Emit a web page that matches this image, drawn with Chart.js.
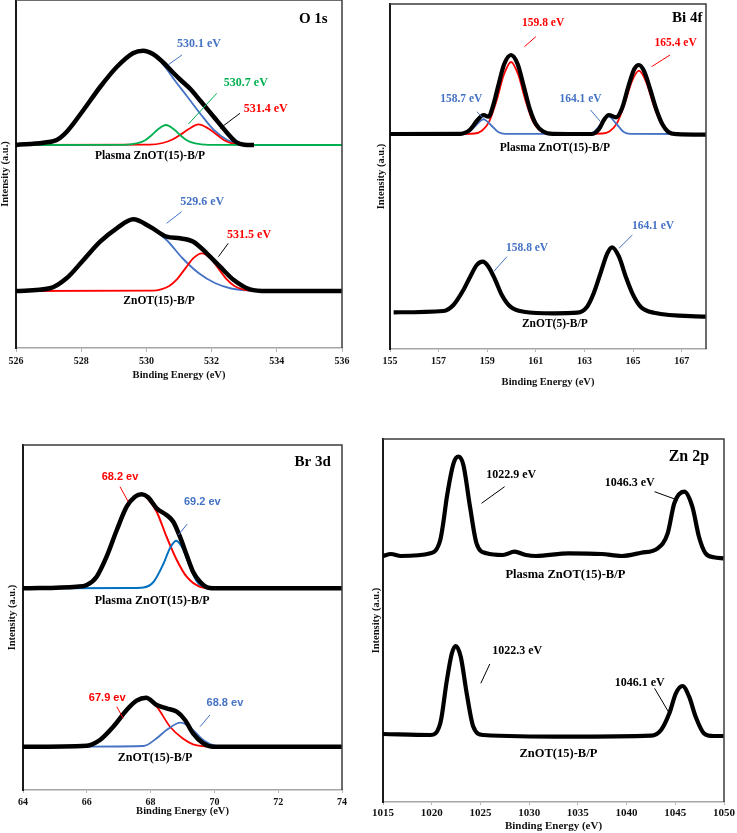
<!DOCTYPE html>
<html>
<head>
<meta charset="utf-8">
<script src="https://cdn.jsdelivr.net/npm/chart.js@4.4.0/dist/chart.umd.min.js"></script>
<style>
  body { margin: 0; background: #fff; }
  #wrap { position: relative; width: 737px; height: 833px; overflow: hidden; }
  canvas { position: absolute; }
</style>
</head>
<body>
<div id="wrap">
  <canvas id="o1sChart" width="355" height="400" style="left:0;top:0"></canvas>
  <canvas id="bi4fChart" width="367" height="400" style="left:370px;top:0"></canvas>
  <canvas id="br3dChart" width="355" height="403" style="left:0;top:430px"></canvas>
  <canvas id="zn2pChart" width="367" height="403" style="left:370px;top:430px"></canvas>
</div>
<script>
// ---- O 1s ----
const o1sTicks = [526, 528, 530, 532, 534, 536];
const o1sPlasmaSum = [[526,203],[526.84,205.3],[527.25,208],[527.55,216],[528.07,238],[528.58,261],[529.09,281],[529.6,295],[529.9,297.3],[530.2,294],[530.5,286],[530.8,276],[531.05,268],[531.35,259],[531.66,247],[532.07,231],[532.48,215],[532.75,206],[533.0,203.3],[533.3,203]];
const o1sPlasmaBlue = [[526,203],[527.0,205.5],[527.55,216],[528.07,238],[528.58,261],[529.09,281],[529.6,295],[529.9,297.3],[530.2,294],[530.5,284],[530.93,265],[531.24,252],[531.66,234],[532.07,218],[532.48,208],[532.89,204],[533.5,203],[536,203]];
const o1sPlasmaGreen = [[526,203],[529.3,203.2],[529.7,204.6],[529.95,207.5],[530.15,212.5],[530.35,218.5],[530.6,223],[530.85,218.5],[531.05,212.5],[531.25,207.5],[531.5,204.6],[531.9,203.2],[536,203]];
const o1sPlasmaRed = [[526,203],[530.1,203.3],[530.5,205],[530.8,208.5],[531.05,213.5],[531.3,219],[531.6,223.7],[531.9,219.5],[532.15,213.5],[532.4,207.5],[532.7,204],[533.0,203.2],[533.2,203]];
const o1sRawSum = [[526,57],[527.04,59.7],[527.55,69.7],[528.07,88],[528.58,106.3],[529.09,119.7],[529.6,128.7],[530.11,121.3],[530.62,111.3],[531.03,109.7],[531.44,106.3],[531.85,94.7],[532.26,81.3],[532.68,68],[533.18,58.7],[533.7,57],[536,57]];
const o1sRawBlue = [[526,57],[527.04,59.7],[527.55,69.7],[528.07,88],[528.58,106.3],[529.09,119.7],[529.6,128.7],[530.11,121.3],[530.62,108],[531.1,90],[531.6,75],[532.1,65],[532.6,59.5],[533.2,57.5],[533.6,57]];
const o1sRawRed = [[526,57],[530.2,57.4],[530.45,58.7],[530.7,62.1],[530.95,69.2],[531.2,79.9],[531.45,90.2],[531.7,94.7],[531.95,90.2],[532.2,79.9],[532.45,69.2],[532.7,62.1],[532.95,58.7],[533.2,57.4],[533.6,57]];
const o1sNotes = ['530.1 eV', '530.7 eV', '531.4 eV', '529.6 eV', '531.5 eV'];
const o1sNoteX = [531.61, 533.05, 533.66, 531.71, 533.15];
const o1sNoteY = [304, 265.3, 239.3, 145.7, 113];
const o1sLeaders = [[531.09,293,530.66,283],[532.16,254.7,531.29,224],[532.87,234.7,532.26,219.7],[531.08,136.3,530.62,124.7],[532.51,104.7,532.21,91.3]];
const o1sSamples = ['Plasma ZnOT(15)-B/P', 'ZnOT(15)-B/P'];
const o1sSampleX = [530.11, 530.39];
const o1sSampleY = [192, 47];

// ---- Bi 4f ----
const bi4fTicks = [155, 157, 159, 161, 163, 165, 167];
const bi4fPlasmaSum = [[155,215],[157.9,215.2],[158.3,219.5],[158.57,228],[158.85,234],[159.05,232.3],[159.25,244],[159.45,263],[159.7,285],[159.98,294],[160.25,285],[160.5,263],[160.75,240],[161.0,225],[161.3,217.5],[161.7,215.2],[163.3,215],[163.6,220],[163.8,229],[164.0,234],[164.3,231.7],[164.55,241],[164.8,262],[165.05,280],[165.24,284],[165.45,278],[165.7,260],[165.95,240],[166.2,225],[166.45,217],[166.8,214.8],[168,214.3]];
const bi4fPlasmaRed = [[157.5,215],[158.48,215.5],[158.78,218.2],[159.08,227.4],[159.38,248],[159.68,274],[159.98,287],[160.28,274],[160.58,248],[160.88,227.4],[161.18,218.2],[161.48,215.5],[162,215],[163.74,215.5],[164.04,217.8],[164.34,225.9],[164.64,244],[164.94,266.9],[165.24,278.3],[165.54,266.9],[165.84,244],[166.14,225.9],[166.44,217.8],[166.74,215.5],[167.2,215]];
const bi4fPlasmaBlue = [[155,215],[157.95,215.2],[158.25,217],[158.55,224],[158.85,229.7],[159.15,224],[159.45,217],[159.75,215.2],[163.1,215.2],[163.4,217.3],[163.7,225.5],[164.0,232.3],[164.3,225.5],[164.6,217.3],[164.9,215.2],[168,215]];
const bi4fRawSum = [[155.15,36.7],[157.2,38],[157.61,44],[158.02,59],[158.3,72.3],[158.57,84],[158.81,87.3],[159.05,82.3],[159.33,69],[159.6,54],[159.95,42.3],[160.5,37.3],[161.74,35.7],[162.7,36.3],[163.11,42.3],[163.38,55.7],[163.66,75.7],[163.94,95.7],[164.14,101.7],[164.42,92.3],[164.7,72.3],[164.97,55.7],[165.31,42.3],[165.86,36.3],[168,32.3]];
const bi4fNotes = ['159.8 eV', '165.4 eV', '158.7 eV', '164.1 eV', '158.8 eV', '164.1 eV'];
const bi4fNoteX = [161.3, 166.75, 157.93, 162.84, 160.64, 165.82];
const bi4fNoteY = [326.3, 306.3, 249.7, 249.7, 100.7, 123.3];
const bi4fLeaders = [[161.0,312.3,160.53,302.3],[166.52,294,165.76,282.3],[158.57,237.3,158.99,227.3],[163.25,239,163.66,227.3],[159.81,92.3,159.26,77.3],[164.97,114,164.42,100.7]];
const bi4fSamples = ['Plasma ZnOT(15)-B/P', 'ZnOT(5)-B/P'];
const bi4fSampleX = [161.78, 161.78];
const bi4fSampleY = [200.7, 24.7];

// ---- Br 3d ----
const br3dTicks = [64, 66, 68, 70, 72, 74];
const br3dPlasmaSum = [[64,201.7],[65.68,203.3],[66.0,205],[66.31,213.3],[66.62,233.3],[66.94,260],[67.25,283.3],[67.51,293.3],[67.72,295.7],[67.92,292.7],[68.19,281.7],[68.5,275],[68.71,268.3],[68.92,253.3],[69.13,235],[69.33,218.3],[69.55,208.3],[69.81,202.3],[70.07,201.7],[74,201.7]];
const br3dPlasmaRed = [[65,201.7],[65.68,203.3],[66.0,205],[66.31,213.3],[66.62,233.3],[66.94,260],[67.25,283.3],[67.51,293.3],[67.72,295.7],[67.92,291],[68.19,278.3],[68.5,253.3],[68.82,230],[69.13,213.3],[69.55,203.3],[69.97,201.7]];
const br3dPlasmaBlue = [[65,201.7],[67.4,202],[67.77,202.5],[68.09,208],[68.4,226],[68.61,242],[68.8,249.3],[69.0,242],[69.2,226],[69.46,208],[69.77,202.5],[70.07,201.7]];
const br3dRawSum = [[64,43.3],[66.0,44.3],[66.41,50],[66.83,63.3],[67.25,80],[67.56,89.3],[67.86,92.3],[68.19,85],[68.5,81.7],[68.82,78.3],[69.08,70],[69.33,56.7],[69.65,46.7],[69.97,43.3],[74,43.3]];
const br3dRawRed = [[65,43.3],[66.0,44.3],[66.41,50],[66.83,63.3],[67.25,80],[67.56,89.3],[67.86,92.3],[68.19,83.3],[68.61,63.3],[69.0,51.7],[69.33,45.7],[69.76,43.3]];
const br3dRawBlue = [[65,43.3],[67.77,44],[68.19,51.7],[68.5,60],[68.94,67.3],[69.33,60],[69.65,50],[70.07,44],[70.49,43.3]];
const br3dNotes = ['68.2 ev', '69.2 ev', '67.9 ev', '68.8 ev'];
const br3dNoteX = [67.04, 69.62, 66.64, 70.33];
const br3dNoteY = [313.3, 287.7, 92.3, 86.7];
const br3dLeaders = [[67.04,303.3,67.3,288.3],[69.15,266,68.87,255],[66.94,83.3,67.14,71.7],[69.86,75,69.55,63.3]];
const br3dSamples = ['Plasma ZnOT(15)-B/P', 'ZnOT(15)-B/P'];
const br3dSampleX = [68.05, 68.14];
const br3dSampleY = [189, 31.7];

// ---- Zn 2p ----
const zn2pTicks = [1015, 1020, 1025, 1030, 1035, 1040, 1045, 1050];
const zn2pPlasma = [[1015,246],[1015.81,248],[1016.83,246],[1019.87,248.7],[1020.88,262],[1021.2,280],[1021.56,305.3],[1022.24,338.7],[1022.74,345.3],[1023.25,337],[1023.93,295.3],[1024.6,258.7],[1025.62,248.7],[1027.31,247],[1028.5,250.3],[1029.68,247],[1030.69,246],[1034.07,248.7],[1037.45,248],[1039.48,246],[1041.51,249.3],[1043.2,253.7],[1044.22,268.7],[1044.9,298.7],[1045.91,310.3],[1046.75,295.3],[1047.43,265.3],[1048.1,248.7],[1048.95,244.7],[1049.97,243.7]];
const zn2pRaw = [[1015,68],[1019.87,67],[1020.88,78.7],[1021.56,122],[1022.07,148.7],[1022.47,156],[1022.98,145.3],[1023.59,108.7],[1024.27,75.3],[1025.28,67],[1034.07,65.3],[1042.53,66.3],[1043.54,72],[1044.39,88.7],[1045.06,108.7],[1045.74,116],[1046.42,105.3],[1047.09,85.3],[1047.94,68.7],[1048.95,66],[1049.97,66]];
const zn2pNotes = ['1022.9 eV', '1046.3 eV', '1022.3 eV', '1046.1 eV'];
const zn2pNoteX = [1028.16, 1040.33, 1028.78, 1041.35];
const zn2pNoteY = [327, 318.7, 151.3, 119.3];
const zn2pLeaders = [[1027.48,315.3,1025.11,298.7],[1042.87,310.3,1045.22,302],[1025.96,138,1025.04,118.7],[1042.87,113.7,1044.39,88.7]];
const zn2pSamples = ['Plasma ZnOT(15)-B/P', 'ZnOT(15)-B/P'];
const zn2pSampleX = [1033.72, 1033];
const zn2pSampleY = [227, 48.7];

const SERIF = '"Liberation Serif", "Times New Roman", serif';
const SANS = '"Liberation Sans", Arial, sans-serif';
const BLACK = '#000000';
const BLUE = '#4472C4';
const DEEPBLUE = '#0070C0';
const GREEN = '#00B050';
const RED = '#FF0000';

function curve(pairs, color, width) {
  return {
    data: pairs.map(p => ({ x: p[0], y: p[1] })),
    borderColor: color,
    borderWidth: width,
    pointRadius: 0,
    fill: false,
    cubicInterpolationMode: 'monotone'
  };
}

// draws the frame, leader lines and all labels in data coordinates
const notesPlugin = {
  id: 'notes',
  afterDatasetsDraw(chart, args, o) {
    const ctx = chart.ctx;
    const xs = chart.scales.x, ys = chart.scales.y;
    const a = chart.chartArea;
    ctx.save();
    ctx.strokeStyle = '#3c3c3c';
    ctx.lineWidth = 1.5;
    ctx.beginPath();
    ctx.moveTo(a.left, a.top);
    ctx.lineTo(a.right, a.top);
    ctx.lineTo(a.right, a.bottom);
    ctx.stroke();

    ctx.lineWidth = 1;
    o.leaders.forEach((l, i) => {
      ctx.strokeStyle = o.leaderColors[i];
      ctx.beginPath();
      ctx.moveTo(xs.getPixelForValue(l[0]), ys.getPixelForValue(l[1]));
      ctx.lineTo(xs.getPixelForValue(l[2]), ys.getPixelForValue(l[3]));
      ctx.stroke();
    });

    ctx.textAlign = 'center';
    ctx.textBaseline = 'middle';
    ctx.font = o.noteFont;
    o.notes.forEach((t, i) => {
      ctx.fillStyle = o.noteColors[i];
      ctx.fillText(t, xs.getPixelForValue(o.noteX[i]), ys.getPixelForValue(o.noteY[i]));
    });
    ctx.font = o.sampleFont;
    ctx.fillStyle = BLACK;
    o.samples.forEach((t, i) => {
      ctx.fillText(t, xs.getPixelForValue(o.sampleX[i]), ys.getPixelForValue(o.sampleY[i]));
    });
    ctx.font = o.titleFont;
    ctx.fillText(o.title[0], xs.getPixelForValue(o.title[1]), ys.getPixelForValue(o.title[2]));
    ctx.restore();
  }
};

function makePanel(id, p) {
  const ctx = document.getElementById(id).getContext('2d');
  return new Chart(ctx, {
    type: 'line',
    data: { datasets: p.datasets },
    plugins: [notesPlugin],
    options: {
      responsive: false,
      animation: false,
      layout: { padding: p.pad },
      plugins: {
        legend: { display: false },
        tooltip: { enabled: false },
        notes: p.notes
      },
      scales: {
        x: {
          type: 'linear',
          min: p.xMin,
          max: p.xMax,
          afterBuildTicks: s => { s.ticks = p.ticks.map(v => ({ value: v })); },
          afterFit: s => { s.height = p.xH; },
          grid: { drawOnChartArea: false, drawTicks: true, tickLength: p.tickLen, color: '#b5b5b5' },
          border: { color: '#a5a5a5', width: 1.5 },
          ticks: {
            autoSkip: false, maxRotation: 0, padding: p.tickPad, color: '#111',
            font: { family: SERIF, weight: 'bold', size: p.tickSize },
            callback: v => String(v)
          },
          title: {
            display: true, text: 'Binding Energy (eV)', color: '#111',
            font: { family: SERIF, weight: 'bold', size: p.axisSize },
            padding: { top: 0, bottom: p.xTitlePad }
          }
        },
        y: {
          type: 'linear',
          min: 0,
          max: p.yMax,
          afterFit: s => { s.width = p.yW; },
          ticks: { display: false },
          grid: { display: false },
          border: { color: '#1a1a1a', width: 2 },
          title: {
            display: true, text: 'Intensity (a.u.)', color: '#111',
            font: { family: SERIF, weight: 'bold', size: 10.5 },
            padding: { top: p.yTitlePad, bottom: 0 }
          }
        }
      }
    }
  });
}

makePanel('o1sChart', {
  xMin: 526, xMax: 536, yMax: 348, ticks: o1sTicks,
  pad: { left: 0, top: 0, right: 13, bottom: 16 }, xH: 36, yW: 16,
  tickLen: 4, tickPad: 3, tickSize: 10, axisSize: 10.5, xTitlePad: 2, yTitlePad: -1,
  datasets: [
    curve(o1sPlasmaSum, BLACK, 4.5),
    curve(o1sPlasmaGreen, GREEN, 1.8),
    curve(o1sPlasmaRed, RED, 1.8),
    curve(o1sPlasmaBlue, BLUE, 1.8),
    curve(o1sRawSum, BLACK, 4.5),
    curve(o1sRawRed, RED, 1.8),
    curve(o1sRawBlue, BLUE, 1.8)
  ],
  notes: {
    notes: o1sNotes, noteX: o1sNoteX, noteY: o1sNoteY,
    noteColors: [BLUE, GREEN, RED, BLUE, RED],
    leaders: o1sLeaders, leaderColors: [BLUE, GREEN, BLACK, BLUE, BLACK],
    samples: o1sSamples, sampleX: o1sSampleX, sampleY: o1sSampleY,
    title: ['O 1s', 535.12, 329],
    noteFont: 'bold 12px ' + SERIF, sampleFont: 'bold 11.5px ' + SERIF, titleFont: 'bold 15px ' + SERIF
  }
});

makePanel('bi4fChart', {
  xMin: 155, xMax: 168, yMax: 345, ticks: bi4fTicks,
  pad: { left: 0, top: 4, right: 31, bottom: 9 }, xH: 42, yW: 20,
  tickLen: 3, tickPad: 3, tickSize: 10, axisSize: 10.5, xTitlePad: 2, yTitlePad: 5,
  datasets: [
    curve(bi4fPlasmaSum, BLACK, 4.2),
    curve(bi4fPlasmaBlue, BLUE, 1.8),
    curve(bi4fPlasmaRed, RED, 1.8),
    curve(bi4fRawSum, BLACK, 4.2)
  ],
  notes: {
    notes: bi4fNotes, noteX: bi4fNoteX, noteY: bi4fNoteY,
    noteColors: [RED, RED, BLUE, BLUE, BLUE, BLUE],
    leaders: bi4fLeaders, leaderColors: [RED, RED, BLUE, BLUE, BLUE, BLUE],
    samples: bi4fSamples, sampleX: bi4fSampleX, sampleY: bi4fSampleY,
    title: ['Bi 4f', 167.23, 330.7],
    noteFont: 'bold 11.5px ' + SERIF, sampleFont: 'bold 11.5px ' + SERIF, titleFont: 'bold 15px ' + SERIF
  }
});

makePanel('br3dChart', {
  xMin: 64, xMax: 74, yMax: 345, ticks: br3dTicks,
  pad: { left: 0, top: 15, right: 13, bottom: 13 }, xH: 30, yW: 23,
  tickLen: 3, tickPad: 3, tickSize: 10, axisSize: 10.5, xTitlePad: 2, yTitlePad: 6,
  datasets: [
    curve(br3dPlasmaSum, BLACK, 4.5),
    curve(br3dPlasmaBlue, DEEPBLUE, 2),
    curve(br3dPlasmaRed, RED, 2),
    curve(br3dRawSum, BLACK, 4.5),
    curve(br3dRawBlue, BLUE, 1.8),
    curve(br3dRawRed, RED, 1.8)
  ],
  notes: {
    notes: br3dNotes, noteX: br3dNoteX, noteY: br3dNoteY,
    noteColors: [RED, BLUE, RED, BLUE],
    leaders: br3dLeaders, leaderColors: [RED, BLUE, RED, BLUE],
    samples: br3dSamples, sampleX: br3dSampleX, sampleY: br3dSampleY,
    title: ['Br 3d', 73.08, 328.3],
    noteFont: 'bold 11px ' + SANS, sampleFont: 'bold 12px ' + SERIF, titleFont: 'bold 15px ' + SERIF
  }
});

makePanel('zn2pChart', {
  xMin: 1015, xMax: 1050, yMax: 363, ticks: zn2pTicks,
  pad: { left: 0, top: 9, right: 10, bottom: 0 }, xH: 31, yW: 12,
  tickLen: 3, tickPad: 2, tickSize: 11, axisSize: 11, xTitlePad: 0, yTitlePad: -1,
  datasets: [
    curve(zn2pPlasma, BLACK, 4.2),
    curve(zn2pRaw, BLACK, 4.2)
  ],
  notes: {
    notes: zn2pNotes, noteX: zn2pNoteX, noteY: zn2pNoteY,
    noteColors: [BLACK, BLACK, BLACK, BLACK],
    leaders: zn2pLeaders, leaderColors: [BLACK, BLACK, BLACK, BLACK],
    samples: zn2pSamples, sampleX: zn2pSampleX, sampleY: zn2pSampleY,
    title: ['Zn 2p', 1046.4, 345.3],
    noteFont: 'bold 12px ' + SERIF, sampleFont: 'bold 12.5px ' + SERIF, titleFont: 'bold 16px ' + SERIF
  }
});
</script>
</body>
</html>
